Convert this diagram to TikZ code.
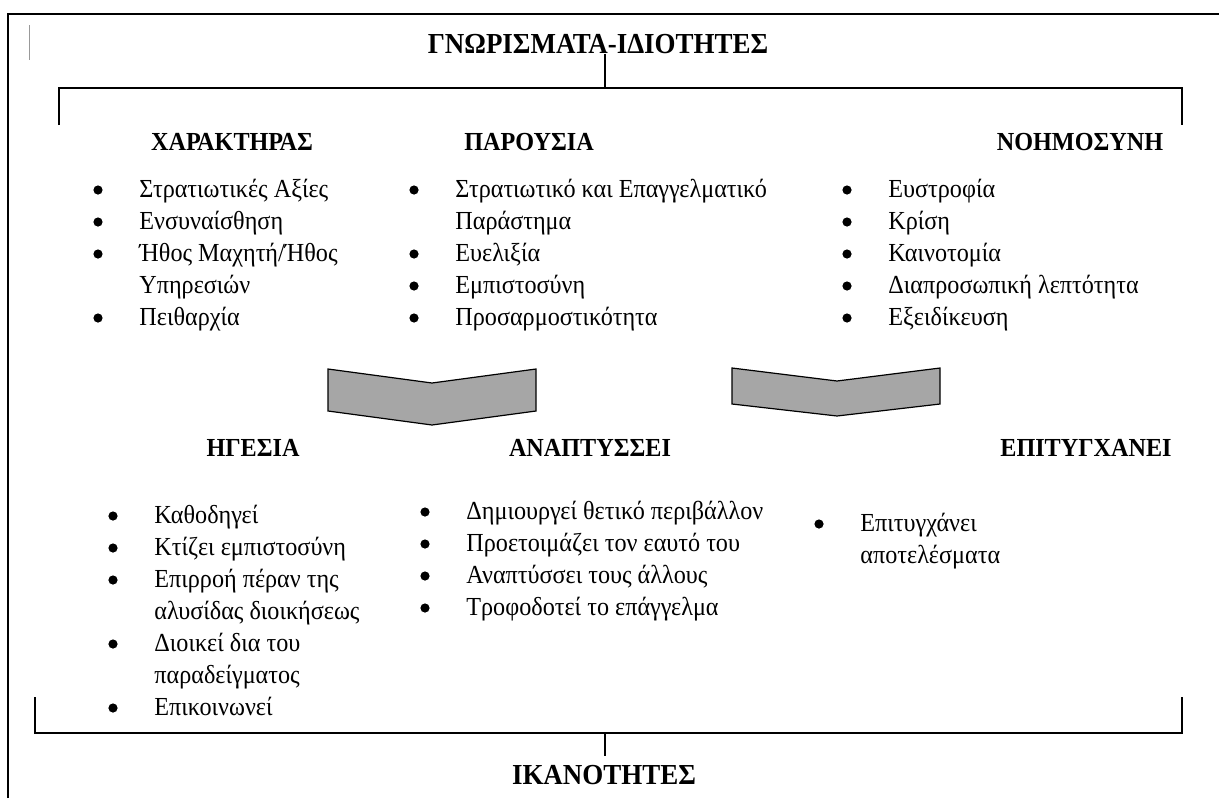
\documentclass[tikz,border=0pt]{standalone}
\usepackage{fontspec}
\setmainfont{Liberation Serif}[FakeStretch=0.93]
\usepackage{xcolor}
\usetikzlibrary{positioning}

\definecolor{chevgray}{HTML}{A6A6A6}
\newcommand{\bul}{\makebox[23pt][l]{\raisebox{1.2pt}{\tikz\fill[black] (0,0) circle (2.3pt);}}}

\tikzset{
	heading/.style={font=\fontsize{13}{16}\selectfont\bfseries, inner sep=0pt, anchor=base},
	bigheading/.style={font=\fontsize{14.5}{16}\selectfont\bfseries, inner sep=0pt, anchor=base},
	itemlist/.style={font=\fontsize{13}{16}\selectfont, inner sep=0pt, anchor=base west},
	frameline/.style={line width=1pt},
	stemline/.style={line width=0.8pt},
	chevron/.style={draw=black, line width=0.6pt, fill=chevgray, line join=miter},
}

\begin{document}
\begin{tikzpicture}[x=0.5pt,y=-0.5pt]
		\useasboundingbox (0,0) rectangle (1219,798);
		% outer frame
		\draw[frameline] (8,798) -- (8,14) -- (1219,14);
		\draw[gray!80, line width=0.5pt] (29,25) -- (29,60);
		%
		\node[bigheading] (title) at (598,53) {ΓΝΩΡΙΣΜΑΤΑ-ΙΔΙΟΤΗΤΕΣ};
		\coordinate (tl) at (59,125);
		\coordinate (tr) at (1182,125);
		\coordinate (stemtop) at (605,88);
		\draw[frameline] (tl) -- (tl |- stemtop) -- (tr |- stemtop) -- (tr);
		\draw[stemline] (stemtop |- title.south) -- (stemtop);
		%
		\node[heading] (char) at (232,150) {ΧΑΡΑΚΤΗΡΑΣ};
		\node[heading] (pres) at (529,150) {ΠΑΡΟΥΣΙΑ};
		\node[heading] (intel) at (1080,150) {ΝΟΗΜΟΣΥΝΗ};
		%
		\node[itemlist] (charlist) at (93,197) {\begin{tabular}[t]{@{}l@{}l@{}}
			\bul & Στρατιωτικές Αξίες\\
			\bul & Ενσυναίσθηση\\
			\bul & Ήθος Μαχητή/Ήθος\\
			& Υπηρεσιών\\
			\bul & Πειθαρχία
		\end{tabular}};
		\node[itemlist] (preslist) at (409,197) {\begin{tabular}[t]{@{}l@{}l@{}}
			\bul & Στρατιωτικό και Επαγγελματικό\\
			& Παράστημα\\
			\bul & Ευελιξία\\
			\bul & Εμπιστοσύνη\\
			\bul & Προσαρμοστικότητα
		\end{tabular}};
		\node[itemlist] (intellist) at (842,197) {\begin{tabular}[t]{@{}l@{}l@{}}
			\bul & Ευστροφία\\
			\bul & Κρίση\\
			\bul & Καινοτομία\\
			\bul & Διαπροσωπική λεπτότητα\\
			\bul & Εξειδίκευση
		\end{tabular}};
		%
		\draw[chevron] (328,369) -- (432,383) -- (536,369) -- (536,411) -- (432,425) -- (328,411) -- cycle;
		\draw[chevron] (732,368) -- (837,381) -- (940,368) -- (940,404) -- (837,416) -- (732,404) -- cycle;
		%
		\node[heading] (lead) at (253,456) {ΗΓΕΣΙΑ};
		\node[heading] (devel) at (590,456) {ΑΝΑΠΤΥΣΣΕΙ};
		\node[heading] (achv) at (1086,456) {ΕΠΙΤΥΓΧΑΝΕΙ};
		%
		\node[itemlist] (leadlist) at (108,523) {\begin{tabular}[t]{@{}l@{}l@{}}
			\bul & Καθοδηγεί\\
			\bul & Κτίζει εμπιστοσύνη\\
			\bul & Επιρροή πέραν της\\
			& αλυσίδας διοικήσεως\\
			\bul & Διοικεί δια του\\
			& παραδείγματος\\
			\bul & Επικοινωνεί
		\end{tabular}};
		\node[itemlist] (devellist) at (420,519) {\begin{tabular}[t]{@{}l@{}l@{}}
			\bul & Δημιουργεί θετικό περιβάλλον\\
			\bul & Προετοιμάζει τον εαυτό του\\
			\bul & Αναπτύσσει τους άλλους\\
			\bul & Τροφοδοτεί το επάγγελμα
		\end{tabular}};
		\node[itemlist] (achvlist) at (814,531) {\begin{tabular}[t]{@{}l@{}l@{}}
			\bul & Επιτυγχάνει\\
			& αποτελέσματα
		\end{tabular}};
		%
		\node[bigheading, outer ysep=4.5pt] (skills) at (604,784) {ΙΚΑΝΟΤΗΤΕΣ};
		\coordinate (bl) at (35,697);
		\coordinate (br) at (1182,697);
		\coordinate (stembot) at (605,733);
		\draw[frameline] (bl) -- (bl |- stembot) -- (br |- stembot) -- (br);
		\draw[stemline] (stembot) -- (stembot |- skills.north);
		\end{tikzpicture}
\end{document}
